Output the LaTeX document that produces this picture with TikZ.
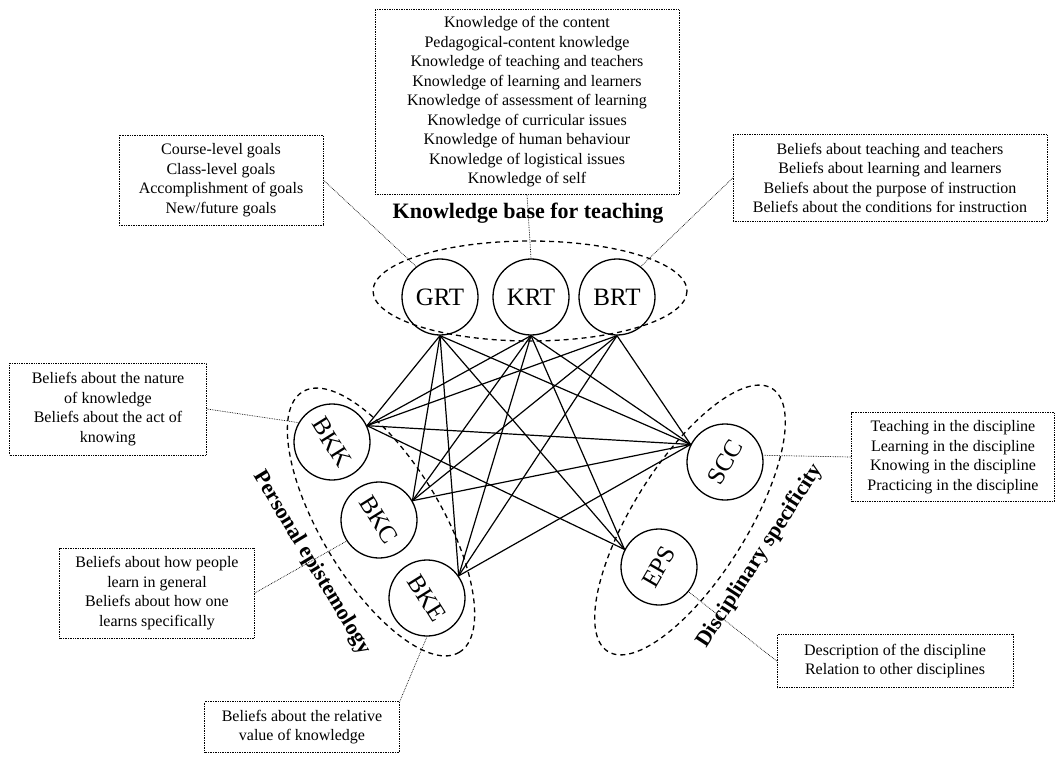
\documentclass[tikz,border=0pt]{standalone}
\usepackage{fontspec}
\usepackage{graphicx}
\setmainfont{Liberation Serif}
\begin{document}
\begin{tikzpicture}[x=1pt, y=-1pt,
    comp/.style={circle, draw, line width=1.3pt, minimum size=76pt, inner sep=0pt, font=\fontsize{25}{30}\selectfont},
    infobox/.style={draw, densely dotted, line width=0.7pt, align=center, inner sep=0pt, font=\fontsize{16}{19.5}\selectfont},
    grouplabel/.style={font=\bfseries\fontsize{22}{26}\selectfont},
    group/.style={line width=1.3pt, dash pattern=on 5pt off 4pt},
    link/.style={line width=1.2pt},
    pointer/.style={densely dotted, line width=0.7pt}]
  \useasboundingbox (0,0) rectangle (1057,759);

  % Knowledge base for teaching
  \node[comp] (GRT) at (440,297) {GRT};
  \node[comp] (KRT) at (531,297) {KRT};
  \node[comp] (BRT) at (617,297) {BRT};
  \draw[group] (530,291) ellipse [x radius=157, y radius=50];
  \node[grouplabel] (kbt) at (528,213) {Knowledge base for teaching};

  % Personal epistemology
  \node[comp] (BKK) at (332,442) {\rotatebox{-58}{BKK}};
  \node[comp] (BKC) at (379,520) {\rotatebox{-58}{BKC}};
  \node[comp] (BKE) at (427,598) {\rotatebox{-58}{BKE}};
  \draw[group, rotate around={-59:(381,522)}] (381,522) ellipse [x radius=152, y radius=60];
  \node[grouplabel, rotate=-59] (pe) at (312,563) {Personal epistemology};

  % Disciplinary specificity
  \node[comp] (SCC) at (725,462) {\rotatebox{60}{SCC}};
  \node[comp] (EPS) at (659,567) {\rotatebox{60}{EPS}};
  \draw[group, rotate around={58:(690,520)}] (690,520) ellipse [x radius=155, y radius=57];
  \node[grouplabel, rotate=57] (ds) at (760,556) {Disciplinary specificity};

  % links between the components
  \foreach \t in {GRT,KRT,BRT} {
    \foreach \o/\a in {BKK/25,BKC/30,BKE/35}
      \draw[link] (\t.south) -- (\o.\a);
    \draw[link] (\t.south) -- (SCC.153);
  }
  \foreach \t in {GRT,KRT}
    \draw[link] (\t.south) -- (EPS.153);
  \foreach \o/\a in {BKK/25,BKC/30,BKE/35}
    \draw[link] (\o.\a) -- (SCC.153);
  \draw[link] (BKK.25) -- (EPS.153);

  % description boxes
  \node[infobox, minimum width=304pt, minimum height=185pt] (kbox) at (527,102) {Knowledge of the content\\ Pedagogical-content knowledge\\ Knowledge of teaching and teachers\\ Knowledge of learning and learners\\ Knowledge of assessment of learning\\ Knowledge of curricular issues\\ Knowledge of human behaviour\\ Knowledge of logistical issues\\ Knowledge of self};
  \node[infobox, minimum width=204pt, minimum height=90pt] (gbox) at (221,180) {Course-level goals\\ Class-level goals\\ Accomplishment of goals\\ New/future goals};
  \node[infobox, minimum width=314pt, minimum height=87pt] (bbox) at (890,178) {Beliefs about teaching and teachers\\ Beliefs about learning and learners\\ Beliefs about the purpose of instruction\\ Beliefs about the conditions for instruction};
  \node[infobox, minimum width=197pt, minimum height=92pt] (nbox) at (108,409) {Beliefs about the nature\\ of knowledge\\ Beliefs about the act of\\ knowing};
  \node[infobox, minimum width=195pt, minimum height=90pt] (lbox) at (157,593) {Beliefs about how people\\ learn in general\\ Beliefs about how one\\ learns specifically};
  \node[infobox, minimum width=195pt, minimum height=51pt] (vbox) at (302,727) {Beliefs about the relative\\ value of knowledge};
  \node[infobox, minimum width=203pt, minimum height=89pt] (sbox) at (953,457) {Teaching in the discipline\\ Learning in the discipline\\ Knowing in the discipline\\ Practicing in the discipline};
  \node[infobox, minimum width=236pt, minimum height=53pt] (dbox) at (895,661) {Description of the discipline\\ Relation to other disciplines};

  % pointers
  \draw[pointer] (gbox.east) -- (GRT.128);
  \draw[pointer] (kbox.south) -- (KRT.north);
  \draw[pointer] (bbox.west) -- (BRT.52);
  \draw[pointer] (nbox.east) -- (BKK.150);
  \draw[pointer] (lbox.east) -- (BKC.213);
  \draw[pointer] (vbox.north east) -- (BKE.south);
  \draw[pointer] (sbox.west) -- (SCC.10);
  \draw[pointer] (dbox.west) -- (EPS.-40);
\end{tikzpicture}
\end{document}
